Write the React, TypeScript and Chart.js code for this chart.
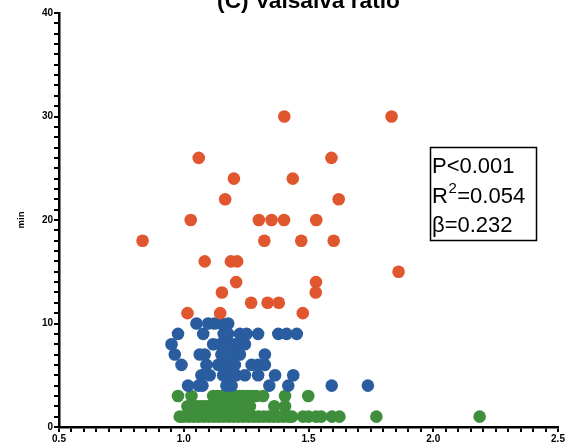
import React, { useEffect, useRef } from 'react';
import { Chart, registerables } from 'chart.js';

Chart.register(...registerables);

// ---------- data ----------
const TITLE = '(C) Valsalva ratio';
const Y_TITLE = 'min';
const X_TICK_LABELS = ['0.5', '1.0', '1.5', '2.0', '2.5'];
const Y_TICK_LABELS = ['0', '10', '20', '30', '40'];
const STAT_P = 'P<0.001';
const STAT_R_BASE = 'R';
const STAT_R_SUP = '2';
const STAT_R_VAL = '=0.054';
const STAT_BETA = 'β=0.232';

const orangeX = [0.835, 1.015, 1.028, 1.06, 1.084, 1.146, 1.153, 1.166, 1.189, 1.201, 1.21, 1.214, 1.27, 1.301, 1.323, 1.336, 1.352, 1.381, 1.402, 1.403, 1.437, 1.471, 1.477, 1.529, 1.53, 1.531, 1.592, 1.601, 1.621, 1.833, 1.861];
const orangeY = [18, 11, 20, 26, 16, 11, 13, 22, 16, 24, 14, 16, 12, 20, 18, 12, 20, 12, 20, 30, 24, 18, 11, 13, 14, 20, 26, 18, 22, 30, 15];

const blueX = [
  1.051, 1.098, 1.124, 1.151, 1.178,
  0.977, 1.078, 1.16, 1.178, 1.225, 1.252, 1.298, 1.379, 1.412, 1.453,
  0.951, 1.118, 1.145, 1.171, 1.2, 1.225, 1.245,
  0.964, 1.064, 1.084, 1.151, 1.19, 1.225, 1.325,
  0.991, 1.091, 1.138, 1.171, 1.185, 1.205, 1.272, 1.298, 1.325,
  1.071, 1.104, 1.158, 1.18, 1.21, 1.245, 1.298, 1.366, 1.439,
  1.017, 1.06, 1.075, 1.171, 1.192, 1.343, 1.419, 1.593, 1.738,
];
const blueY = [
  10, 10, 10, 10, 10,
  9, 9, 9, 9, 9, 9, 9, 9, 9, 9,
  8, 8, 8, 8, 8, 8, 8,
  7, 7, 7, 7, 7, 7, 7,
  6, 6, 6, 6, 6, 6, 6, 6, 6,
  5, 5, 5, 5, 5, 5, 5, 5, 5,
  4, 4, 4, 4, 4, 4, 4, 4, 4,
];

const greenX = [
  0.977, 1.031, 1.118, 1.135, 1.15, 1.165, 1.178, 1.195, 1.211, 1.225, 1.238, 1.255, 1.272, 1.29, 1.318, 1.406, 1.499,
  1.015, 1.035, 1.05, 1.066, 1.08, 1.095, 1.11, 1.131, 1.145, 1.16, 1.175, 1.189, 1.2, 1.218, 1.235, 1.254, 1.265, 1.363, 1.406,
  0.984, 1.0, 1.02, 1.04, 1.06, 1.08, 1.1, 1.12, 1.14, 1.16, 1.18, 1.2, 1.22, 1.24, 1.26, 1.28, 1.3, 1.32, 1.34, 1.36, 1.38, 1.4, 1.42, 1.434,
  1.478, 1.5, 1.53, 1.551, 1.594, 1.624, 1.772, 2.186,
];
const greenY = [
  3, 3, 3, 3, 3, 3, 3, 3, 3, 3, 3, 3, 3, 3, 3, 3, 3,
  2, 2, 2, 2, 2, 2, 2, 2, 2, 2, 2, 2, 2, 2, 2, 2, 2, 2, 2,
  1, 1, 1, 1, 1, 1, 1, 1, 1, 1, 1, 1, 1, 1, 1, 1, 1, 1, 1, 1, 1, 1, 1, 1,
  1, 1, 1, 1, 1, 1, 1, 1,
];

const ORANGE = '#E0562F';
const BLUE = '#2A5D9F';
const GREEN = '#3F8E3C';
const FONT = '"Liberation Sans", Arial, sans-serif';

const toPoints = (xs: number[], ys: number[]) => xs.map((x, i) => ({ x, y: ys[i] }));

const overlayPlugin = {
  id: 'overlay',
  afterDraw(chart: any) {
    const ctx = chart.ctx as CanvasRenderingContext2D;
    const area = chart.chartArea;
    ctx.save();
    // title (partly cut at top)
    ctx.fillStyle = '#000';
    ctx.font = `bold 22.7px ${FONT}`;
    ctx.textAlign = 'center';
    ctx.textBaseline = 'alphabetic';
    ctx.fillText(TITLE, (area.left + area.right) / 2, 8);

    // y axis title
    ctx.save();
    ctx.translate(21, (area.top + area.bottom) / 2);
    ctx.rotate(-Math.PI / 2);
    ctx.font = `bold 9.5px ${FONT}`;
    ctx.textAlign = 'center';
    ctx.textBaseline = 'middle';
    ctx.fillText(Y_TITLE, 0, 0);
    ctx.restore();

    // stats box
    ctx.strokeStyle = '#000';
    ctx.lineWidth = 1.5;
    ctx.strokeRect(430.5, 147.5, 106, 93);
    ctx.textAlign = 'left';
    ctx.textBaseline = 'alphabetic';
    ctx.font = `22px ${FONT}`;
    const tx = 432;
    ctx.fillText(STAT_P, tx, 172.5);
    ctx.fillText(STAT_R_BASE, tx, 202.5);
    const w = ctx.measureText(STAT_R_BASE).width;
    ctx.font = `15px ${FONT}`;
    ctx.fillText(STAT_R_SUP, tx + w + 0.5, 193);
    const w2 = ctx.measureText(STAT_R_SUP).width;
    ctx.font = `22px ${FONT}`;
    ctx.fillText(STAT_R_VAL, tx + w + w2 + 1, 202.5);
    ctx.fillText(STAT_BETA, tx, 231.5);
    ctx.restore();
  },
};

export default function App() {
  const canvasRef = useRef<HTMLCanvasElement | null>(null);

  useEffect(() => {
    document.body.style.margin = '0';
    const canvas = canvasRef.current;
    if (!canvas) return;
    const tickFont = { family: FONT, weight: 'bold' as const, size: 10 };
    const chart = new Chart(canvas, {
      type: 'scatter',
      data: {
        datasets: [
          { label: 'orange', data: toPoints(orangeX, orangeY), backgroundColor: ORANGE, borderWidth: 0, pointRadius: 6.3, pointHoverRadius: 6.3 },
          { label: 'blue', data: toPoints(blueX, blueY), backgroundColor: BLUE, borderWidth: 0, pointRadius: 6.3, pointHoverRadius: 6.3 },
          { label: 'green', data: toPoints(greenX, greenY), backgroundColor: GREEN, borderWidth: 0, pointRadius: 6.3, pointHoverRadius: 6.3 },
        ],
      },
      options: {
        responsive: false,
        animation: false,
        devicePixelRatio: 1,
        layout: { padding: { top: 13, right: 9, left: 0, bottom: 0 } },
        plugins: { legend: { display: false }, tooltip: { enabled: false }, title: { display: false } },
        scales: {
          x: {
            type: 'linear',
            min: 0.5,
            max: 2.5,
            afterFit: (s: any) => { s.height = 19; },
            ticks: {
              stepSize: 0.05,
              maxTicksLimit: 100,
              autoSkip: false,
              maxRotation: 0,
              minRotation: 0,
              padding: 1,
              color: '#000',
              font: tickFont,
              callback: (v: any) => {
                const k = Math.round(Number(v) * 100);
                if (k % 50 !== 0) return '';
                return X_TICK_LABELS[Math.round((k - 50) / 50)] ?? '';
              },
            },
            grid: { drawOnChartArea: false, drawTicks: true, tickLength: 5, color: '#000', lineWidth: 2 },
            border: { color: '#000', width: 2.5 },
          },
          y: {
            type: 'linear',
            min: 0,
            max: 40,
            afterFit: (s: any) => { s.width = 59; },
            ticks: {
              stepSize: 1,
              maxTicksLimit: 100,
              autoSkip: false,
              padding: 1,
              color: '#000',
              font: tickFont,
              callback: (v: any) => {
                const k = Math.round(Number(v));
                if (k % 10 !== 0) return '';
                return Y_TICK_LABELS[k / 10] ?? '';
              },
            },
            grid: { drawOnChartArea: false, drawTicks: true, tickLength: 5, color: '#000', lineWidth: 2 },
            border: { color: '#000', width: 2.5 },
          },
        },
      },
      plugins: [overlayPlugin],
    });
    return () => chart.destroy();
  }, []);

  return (
    <div style={{ position: 'absolute', left: 0, top: 0, width: 567, height: 446, background: '#fff' }}>
      <canvas ref={canvasRef} width={567} height={446} style={{ display: 'block' }} />
    </div>
  );
}
